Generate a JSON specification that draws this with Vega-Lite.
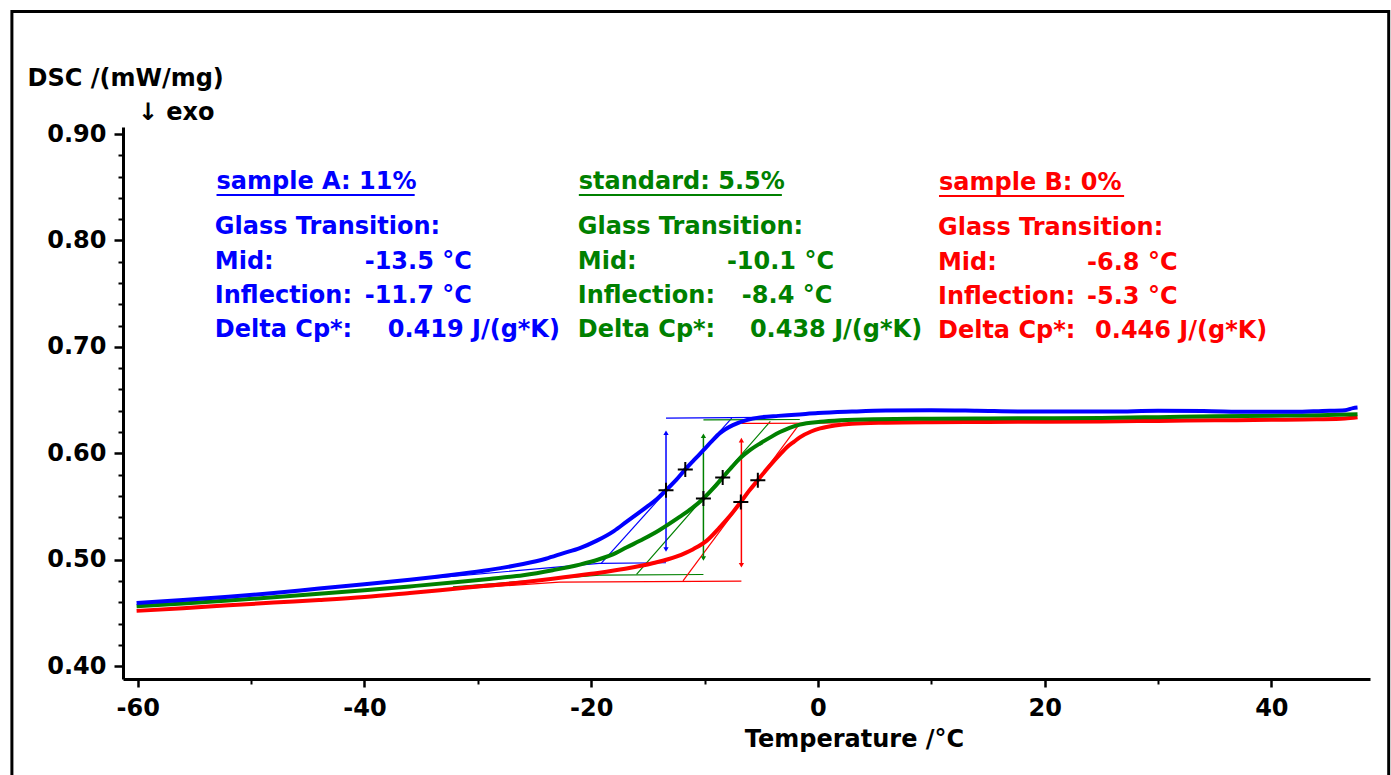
{
  "$schema": "https://vega.github.io/schema/vega-lite/v6.json",
  "width": 1247,
  "height": 552,
  "autosize": {"type": "none"},
  "padding": {"left": 123, "top": 127, "right": 21, "bottom": 96},
  "background": "white",
  "config": {
    "view": {"stroke": null},
    "font": "DejaVu Sans",
    "axis": {
      "domainColor": "black", "tickColor": "black", "labelColor": "black", "titleColor": "black",
      "labelFont": "DejaVu Sans", "labelFontWeight": "bold", "labelFontSize": 24,
      "titleFont": "DejaVu Sans", "titleFontWeight": "bold", "titleFontSize": 24,
      "grid": false, "labelFlush": false, "labelOverlap": false, "labelBound": false
    }
  },
  "datasets": {
    "curves": [
      {"s":"B","T":-60.1,"v":0.4520},{"s":"B","T":-56,"v":0.4545},{"s":"B","T":-52,"v":0.4572},{"s":"B","T":-48,"v":0.4598},{"s":"B","T":-44,"v":0.4622},{"s":"B","T":-40,"v":0.4650},{"s":"B","T":-36,"v":0.4688},{"s":"B","T":-32,"v":0.4728},{"s":"B","T":-29,"v":0.4758},{"s":"B","T":-26,"v":0.4790},{"s":"B","T":-23.4,"v":0.4822},{"s":"B","T":-20,"v":0.4868},{"s":"B","T":-17,"v":0.4915},{"s":"B","T":-14.5,"v":0.4970},{"s":"B","T":-12.5,"v":0.5030},{"s":"B","T":-11,"v":0.5100},{"s":"B","T":-9.8,"v":0.5180},{"s":"B","T":-8.7,"v":0.5300},{"s":"B","T":-7.7,"v":0.5420},{"s":"B","T":-6.8,"v":0.5544},{"s":"B","T":-6.05,"v":0.5650},{"s":"B","T":-5.3,"v":0.5748},{"s":"B","T":-4.6,"v":0.5840},{"s":"B","T":-3.95,"v":0.5920},{"s":"B","T":-3.3,"v":0.5995},{"s":"B","T":-2.76,"v":0.6055},{"s":"B","T":-2.1,"v":0.6110},{"s":"B","T":-1.6,"v":0.6150},{"s":"B","T":-0.6,"v":0.6205},{"s":"B","T":0.2,"v":0.6234},{"s":"B","T":1.5,"v":0.6262},{"s":"B","T":3,"v":0.6278},{"s":"B","T":6,"v":0.6288},{"s":"B","T":10,"v":0.6293},{"s":"B","T":15,"v":0.6295},{"s":"B","T":20,"v":0.6297},{"s":"B","T":25,"v":0.6300},{"s":"B","T":30,"v":0.6305},{"s":"B","T":35,"v":0.6310},{"s":"B","T":40,"v":0.6315},{"s":"B","T":44,"v":0.6320},{"s":"B","T":46.5,"v":0.6328},{"s":"B","T":47.6,"v":0.6340},
      {"s":"S","T":-60.1,"v":0.4564},{"s":"S","T":-56,"v":0.4590},{"s":"S","T":-52,"v":0.4618},{"s":"S","T":-48,"v":0.4648},{"s":"S","T":-44,"v":0.4680},{"s":"S","T":-40,"v":0.4714},{"s":"S","T":-36,"v":0.4750},{"s":"S","T":-32,"v":0.4788},{"s":"S","T":-29,"v":0.4820},{"s":"S","T":-26,"v":0.4855},{"s":"S","T":-23.4,"v":0.4902},{"s":"S","T":-21,"v":0.4955},{"s":"S","T":-19.3,"v":0.5005},{"s":"S","T":-17.8,"v":0.5065},{"s":"S","T":-16.9,"v":0.5115},{"s":"S","T":-15.4,"v":0.5195},{"s":"S","T":-14,"v":0.5278},{"s":"S","T":-12.2,"v":0.5403},{"s":"S","T":-11.1,"v":0.5485},{"s":"S","T":-10.1,"v":0.5576},{"s":"S","T":-9.2,"v":0.5675},{"s":"S","T":-8.4,"v":0.5773},{"s":"S","T":-7.6,"v":0.5870},{"s":"S","T":-6.9,"v":0.5950},{"s":"S","T":-6,"v":0.6030},{"s":"S","T":-5.1,"v":0.6093},{"s":"S","T":-4.2,"v":0.6150},{"s":"S","T":-3.35,"v":0.6200},{"s":"S","T":-2.5,"v":0.6240},{"s":"S","T":-1.6,"v":0.6270},{"s":"S","T":0.2,"v":0.6296},{"s":"S","T":2,"v":0.6310},{"s":"S","T":5,"v":0.6320},{"s":"S","T":10,"v":0.6325},{"s":"S","T":15,"v":0.6328},{"s":"S","T":20,"v":0.6330},{"s":"S","T":25,"v":0.6333},{"s":"S","T":30,"v":0.6340},{"s":"S","T":35,"v":0.6348},{"s":"S","T":40,"v":0.6353},{"s":"S","T":45,"v":0.6360},{"s":"S","T":47.6,"v":0.6368},
      {"s":"A","T":-60.1,"v":0.4595},{"s":"A","T":-56,"v":0.4622},{"s":"A","T":-52,"v":0.4652},{"s":"A","T":-48,"v":0.4688},{"s":"A","T":-44,"v":0.4730},{"s":"A","T":-40,"v":0.4770},{"s":"A","T":-36,"v":0.4812},{"s":"A","T":-32,"v":0.4862},{"s":"A","T":-29,"v":0.4905},{"s":"A","T":-26,"v":0.4960},{"s":"A","T":-24,"v":0.5010},{"s":"A","T":-22.5,"v":0.5060},{"s":"A","T":-21,"v":0.5110},{"s":"A","T":-19.5,"v":0.5180},{"s":"A","T":-18,"v":0.5270},{"s":"A","T":-16.9,"v":0.5356},{"s":"A","T":-15.1,"v":0.5497},{"s":"A","T":-14.2,"v":0.5570},{"s":"A","T":-13.4,"v":0.5654},{"s":"A","T":-12.5,"v":0.5750},{"s":"A","T":-11.7,"v":0.5849},{"s":"A","T":-10.9,"v":0.5940},{"s":"A","T":-10.1,"v":0.6030},{"s":"A","T":-9.4,"v":0.6110},{"s":"A","T":-8.65,"v":0.6190},{"s":"A","T":-7.5,"v":0.6265},{"s":"A","T":-6.3,"v":0.6312},{"s":"A","T":-5.1,"v":0.6338},{"s":"A","T":-3.5,"v":0.6352},{"s":"A","T":-2,"v":0.6362},{"s":"A","T":0,"v":0.6378},{"s":"A","T":3,"v":0.6392},{"s":"A","T":6,"v":0.6402},{"s":"A","T":10,"v":0.6405},{"s":"A","T":14,"v":0.6400},{"s":"A","T":18,"v":0.6393},{"s":"A","T":22,"v":0.6392},{"s":"A","T":26,"v":0.6393},{"s":"A","T":30,"v":0.6400},{"s":"A","T":34,"v":0.6398},{"s":"A","T":38,"v":0.6390},{"s":"A","T":42,"v":0.6390},{"s":"A","T":44.5,"v":0.6398},{"s":"A","T":46.5,"v":0.6405},{"s":"A","T":47.2,"v":0.6425},{"s":"A","T":47.6,"v":0.6430}
    ],
    "guides": [
      {"s":"A","p":"lo","T":-34,"v":0.4828},{"s":"A","p":"lo","T":-19.3,"v":0.4966},{"s":"A","p":"lo","T":-13.4,"v":0.4972},
      {"s":"A","p":"hi","T":-13.4,"v":0.6331},{"s":"A","p":"hi","T":-4,"v":0.6338},
      {"s":"A","p":"tan","T":-19.1,"v":0.4968},{"s":"A","p":"tan","T":-7.6,"v":0.6331},
      {"s":"S","p":"lo","T":-32.2,"v":0.4746},{"s":"S","p":"lo","T":-19.3,"v":0.4855},{"s":"S","p":"lo","T":-10.1,"v":0.4862},
      {"s":"S","p":"hi","T":-10.1,"v":0.6315},{"s":"S","p":"hi","T":-1.6,"v":0.6318},
      {"s":"S","p":"tan","T":-16.0,"v":0.4862},{"s":"S","p":"tan","T":-4.2,"v":0.6300},
      {"s":"B","p":"lo","T":-33.4,"v":0.4714},{"s":"B","p":"lo","T":-22.8,"v":0.4790},{"s":"B","p":"lo","T":-6.75,"v":0.4800},
      {"s":"B","p":"hi","T":-6.75,"v":0.6281},{"s":"B","p":"hi","T":2,"v":0.6285},
      {"s":"B","p":"tan","T":-11.9,"v":0.4802},{"s":"B","p":"tan","T":-1.7,"v":0.6265}
    ],
    "arrows": [
      {"s":"A","T":-13.4,"top":0.6193,"bot":0.5097},
      {"s":"S","T":-10.1,"top":0.6165,"bot":0.5012},
      {"s":"B","T":-6.75,"top":0.6124,"bot":0.4949}
    ],
    "marks": [
      {"T":-13.4,"v":0.5654},{"T":-11.7,"v":0.5849},
      {"T":-10.1,"v":0.5576},{"T":-8.4,"v":0.5773},
      {"T":-6.8,"v":0.5544},{"T":-5.3,"v":0.5748}
    ],
    "texts": [
      {"s":"A","T":-53.05,"v":0.8549,"t":"sample A: 11%"},
      {"s":"A","T":-53.2,"v":0.8126,"t":"Glass Transition:"},
      {"s":"A","T":-53.2,"v":0.7797,"t":"Mid:"},
      {"s":"A","T":-39.98,"v":0.7797,"t":"-13.5 °C"},
      {"s":"A","T":-53.2,"v":0.7477,"t":"Inflection:"},
      {"s":"A","T":-39.98,"v":0.7477,"t":"-11.7 °C"},
      {"s":"A","T":-53.2,"v":0.7158,"t":"Delta Cp*:"},
      {"s":"A","T":-37.95,"v":0.7158,"t":"0.419 J/(g*K)"},
      {"s":"S","T":-21.09,"v":0.8549,"t":"standard: 5.5%"},
      {"s":"S","T":-21.18,"v":0.8126,"t":"Glass Transition:"},
      {"s":"S","T":-21.18,"v":0.7797,"t":"Mid:"},
      {"s":"S","T":-8.03,"v":0.7797,"t":"-10.1 °C"},
      {"s":"S","T":-21.18,"v":0.7477,"t":"Inflection:"},
      {"s":"S","T":-6.71,"v":0.7477,"t":"-8.4 °C"},
      {"s":"S","T":-21.18,"v":0.7158,"t":"Delta Cp*:"},
      {"s":"S","T":-6.0,"v":0.7158,"t":"0.438 J/(g*K)"},
      {"s":"B","T":10.68,"v":0.8540,"t":"sample B: 0%"},
      {"s":"B","T":10.59,"v":0.8117,"t":"Glass Transition:"},
      {"s":"B","T":10.59,"v":0.7788,"t":"Mid:"},
      {"s":"B","T":23.74,"v":0.7788,"t":"-6.8 °C"},
      {"s":"B","T":10.59,"v":0.7468,"t":"Inflection:"},
      {"s":"B","T":23.74,"v":0.7468,"t":"-5.3 °C"},
      {"s":"B","T":10.59,"v":0.7149,"t":"Delta Cp*:"},
      {"s":"B","T":24.45,"v":0.7149,"t":"0.446 J/(g*K)"}
    ],
    "underlines": [
      {"s":"A","T":-53.05,"T2":-35.57,"v":0.8427},
      {"s":"S","T":-21.09,"T2":-3.18,"v":0.8427},
      {"s":"B","T":10.68,"T2":27.01,"v":0.8418}
    ],
    "notes": [
      {"T":-60.0,"v":0.9197,"t":"↓ exo"}
    ]
  },
  "resolve": {"axis": {"x": "independent", "y": "independent"}},
  "layer": [
    {
      "data": {"values": [{"k": "frame"}]},
      "mark": {"type": "rect", "filled": false, "color": "black", "strokeWidth": 3},
      "encoding": {
        "x": {"datum": -71.1, "type": "quantitative", "scale": {"domain": [-61.3, 48.7], "nice": false, "zero": false}, "axis": null},
        "x2": {"datum": 50.35},
        "y": {"datum": 1.015, "type": "quantitative", "scale": {"domain": [0.388, 0.9066], "nice": false, "zero": false}, "axis": null},
        "y2": {"datum": 0.2}
      }
    },
    {
      "data": {"name": "guides"},
      "mark": {"type": "line", "strokeWidth": 1.2},
      "encoding": {
        "x": {"field": "T", "type": "quantitative", "axis": {"orient": "bottom", "values": [-50, -30, -10, 10, 30], "tickSize": 5, "tickWidth": 2, "labels": false, "domain": false, "title": null}},
        "y": {"field": "v", "type": "quantitative", "axis": {"orient": "left", "values": [0.42, 0.44, 0.46, 0.48, 0.52, 0.54, 0.56, 0.58, 0.62, 0.64, 0.66, 0.68, 0.72, 0.74, 0.76, 0.78, 0.82, 0.84, 0.86, 0.88], "tickSize": 5, "tickWidth": 2, "labels": false, "domain": false, "title": null}},
        "color": {"field": "s", "type": "nominal", "scale": {"domain": ["A", "S", "B"], "range": ["#0000ff", "#008000", "#ff0000"]}, "legend": null},
        "detail": {"field": "p"}
      }
    },
    {
      "data": {"name": "arrows"},
      "mark": {"type": "rule", "strokeWidth": 1.5},
      "encoding": {
        "x": {"field": "T", "type": "quantitative", "axis": null},
        "y": {"field": "top", "type": "quantitative", "axis": null},
        "y2": {"field": "bot"},
        "color": {"field": "s", "type": "nominal", "legend": null}
      }
    },
    {
      "data": {"name": "arrows"},
      "mark": {"type": "point", "shape": "triangle-up", "size": 28, "filled": true, "opacity": 1},
      "encoding": {
        "x": {"field": "T", "type": "quantitative", "axis": null},
        "y": {"field": "top", "type": "quantitative", "axis": null},
        "color": {"field": "s", "type": "nominal", "legend": null}
      }
    },
    {
      "data": {"name": "arrows"},
      "mark": {"type": "point", "shape": "triangle-down", "size": 28, "filled": true, "opacity": 1},
      "encoding": {
        "x": {"field": "T", "type": "quantitative", "axis": null},
        "y": {"field": "bot", "type": "quantitative", "axis": null},
        "color": {"field": "s", "type": "nominal", "legend": null}
      }
    },
    {
      "data": {"name": "curves"},
      "mark": {"type": "line", "strokeWidth": 4, "interpolate": "monotone"},
      "encoding": {
        "x": {"field": "T", "type": "quantitative", "axis": {"orient": "bottom", "values": [-60, -40, -20, 0, 20, 40], "labelExpr": "datum.value < 0 ? '-' + abs(datum.value) : '' + datum.value", "tickSize": 8, "tickWidth": 2.5, "domainWidth": 3, "labelPadding": 9, "title": "Temperature /°C", "titleX": 731, "titleY": 60, "titleBaseline": "middle", "titleAlign": "center"}},
        "y": {"field": "v", "type": "quantitative", "axis": {"orient": "left", "values": [0.4, 0.5, 0.6, 0.7, 0.8, 0.9], "format": ".2f", "tickSize": 9, "tickWidth": 2.5, "domainWidth": 3, "labelPadding": 8, "title": "DSC /(mW/mg)", "titleAngle": 0, "titleAlign": "left", "titleBaseline": "middle", "titleX": -96, "titleY": -49}},
        "color": {"field": "s", "type": "nominal", "legend": null},
        "order": {"field": "T"}
      }
    },
    {
      "data": {"name": "marks"},
      "mark": {"type": "point", "shape": "M-1,0L1,0M0,-1L0,1", "size": 225, "filled": false, "color": "black", "strokeWidth": 2, "opacity": 1},
      "encoding": {
        "x": {"field": "T", "type": "quantitative", "axis": null},
        "y": {"field": "v", "type": "quantitative", "axis": null}
      }
    },
    {
      "data": {"name": "texts"},
      "mark": {"type": "text", "align": "left", "baseline": "middle", "fontSize": 24, "fontWeight": "bold", "font": "DejaVu Sans"},
      "encoding": {
        "x": {"field": "T", "type": "quantitative", "axis": null},
        "y": {"field": "v", "type": "quantitative", "axis": null},
        "text": {"field": "t"},
        "color": {"field": "s", "type": "nominal", "legend": null}
      }
    },
    {
      "data": {"name": "underlines"},
      "mark": {"type": "rule", "strokeWidth": 2},
      "encoding": {
        "x": {"field": "T", "type": "quantitative", "axis": null},
        "x2": {"field": "T2"},
        "y": {"field": "v", "type": "quantitative", "axis": null},
        "color": {"field": "s", "type": "nominal", "legend": null}
      }
    },
    {
      "data": {"name": "notes"},
      "mark": {"type": "text", "align": "left", "baseline": "middle", "fontSize": 24, "fontWeight": "bold", "font": "DejaVu Sans", "color": "black"},
      "encoding": {
        "x": {"field": "T", "type": "quantitative", "axis": null},
        "y": {"field": "v", "type": "quantitative", "axis": null},
        "text": {"field": "t"}
      }
    }
  ]
}
